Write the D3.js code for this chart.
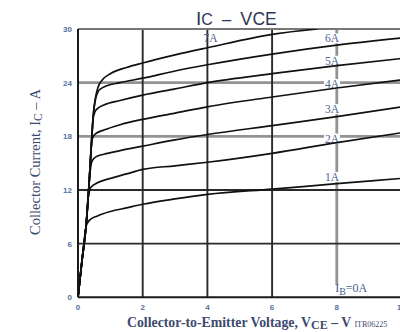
<!DOCTYPE html>
<html><head><meta charset="utf-8">
<script src="https://cdn.jsdelivr.net/npm/d3@7"></script>
<style>html,body{margin:0;padding:0;background:#fff;overflow:hidden}</style>
</head><body>
<svg id="c" width="400" height="332"></svg>
<script>
// ---- data ----
const xTicks = [0, 2, 4, 6, 8, 10];
const yTicks = [0, 6, 12, 18, 24, 30];
const baseCurrents = ["1A", "2A", "3A", "4A", "5A", "6A", "7A"];
const vce = {
  "1A": [0, 0.12, 0.25, 0.35, 0.6, 1, 1.5, 2, 3, 4, 6, 8, 10],
  "2A": [0, 0.12, 0.25, 0.32, 0.4, 0.6, 1, 1.5, 2, 3, 4, 6, 8, 10],
  "3A": [0, 0.12, 0.25, 0.33, 0.38, 0.43, 0.55, 0.8, 1.3, 2, 3, 4, 6, 8, 10],
  "4A": [0, 0.12, 0.25, 0.33, 0.38, 0.42, 0.46, 0.55, 0.8, 1.3, 2, 3, 4, 6, 8, 10],
  "5A": [0, 0.12, 0.25, 0.33, 0.38, 0.42, 0.47, 0.52, 0.6, 0.8, 1.3, 2, 3, 4, 6, 8, 10],
  "6A": [0, 0.12, 0.25, 0.33, 0.38, 0.42, 0.47, 0.55, 0.62, 0.7, 0.85, 1.3, 2, 3, 4, 6, 8, 10],
  "7A": [0, 0.12, 0.25, 0.33, 0.38, 0.42, 0.47, 0.55, 0.62, 0.75, 1, 1.5, 2, 3, 4, 6, 7.4]
};
const ic = {
  "1A": [0, 4, 7.9, 8.6, 9.1, 9.6, 10, 10.4, 11, 11.5, 12.1, 12.7, 13.3],
  "2A": [0, 4, 8, 11.3, 12.3, 12.8, 13.3, 13.8, 14.3, 14.7, 15.1, 16.1, 17.3, 18.4],
  "3A": [0, 4, 8, 12, 14.2, 15.2, 15.7, 16, 16.4, 16.9, 17.6, 18.2, 19.2, 20.2, 21.3],
  "4A": [0, 4, 8, 12, 15, 17.2, 17.9, 18.3, 18.7, 19.3, 19.9, 20.6, 21.3, 22.4, 23.4, 24.3],
  "5A": [0, 4, 8, 12, 15, 17.5, 20, 20.7, 21.1, 21.5, 22, 22.6, 23.3, 24, 25, 25.9, 26.7],
  "6A": [0, 4, 8, 12, 15, 17.5, 20.3, 22.3, 23, 23.3, 23.6, 24, 24.5, 25.3, 26, 27.2, 28.2, 29],
  "7A": [0, 4, 8, 12, 15, 17.5, 20.3, 22.5, 23.5, 24.3, 25, 25.7, 26.2, 27.1, 27.9, 29.4, 30]
};
const labelPos = { // label anchor in data units (V, A)
  "1A": [7.85, 13.0], "2A": [7.85, 17.3], "3A": [7.85, 20.6], "4A": [7.85, 23.4],
  "5A": [7.85, 26.0], "6A": [7.85, 28.5], "7A": [4.1, 28.5]
};
const titleText = ["I", "C", "  –  ", "V", "CE"];

// ---- drawing ----
const svg = d3.select("#c");
const x = d3.scaleLinear().domain([0, 10]).range([78, 401.5]);
const y = d3.scaleLinear().domain([0, 30]).range([297.3, 29]);

// grid
const darkX = [2, 4, 6], grayX = [8];
const darkY = [6, 12], grayY = [18, 24];
svg.append("g").selectAll("line").data(grayX).join("line")
  .attr("x1", d => x(d)).attr("x2", d => x(d)).attr("y1", y(0)).attr("y2", y(30))
  .attr("stroke", "#939393").attr("stroke-width", 2.8);
svg.append("g").selectAll("line").data(grayY).join("line")
  .attr("x1", x(0)).attr("x2", x(10)).attr("y1", d => y(d)).attr("y2", d => y(d))
  .attr("stroke", "#939393").attr("stroke-width", 2.8);
svg.append("g").selectAll("line").data(darkX).join("line")
  .attr("x1", d => x(d)).attr("x2", d => x(d)).attr("y1", y(0)).attr("y2", y(30))
  .attr("stroke", "#2a2a2a").attr("stroke-width", 1.9);
svg.append("g").selectAll("line").data(darkY).join("line")
  .attr("x1", x(0)).attr("x2", x(10)).attr("y1", d => y(d)).attr("y2", d => y(d))
  .attr("stroke", "#2a2a2a").attr("stroke-width", 1.9);
// frame
svg.append("line").attr("x1", x(0)).attr("x2", x(10)).attr("y1", y(30)).attr("y2", y(30))
  .attr("stroke", "#777").attr("stroke-width", 2.2);
svg.append("line").attr("x1", x(0)).attr("x2", x(0)).attr("y1", y(0)).attr("y2", y(30))
  .attr("stroke", "#1a1a1a").attr("stroke-width", 2);

// curve labels (white boxes behind, under the curves)
const lblColor = "#4b5f8f";
const lg = svg.append("g").attr("font-family", "'Liberation Serif', serif").attr("font-size", 11.5).attr("fill", lblColor);
baseCurrents.forEach(k => {
  const [vx, vy] = labelPos[k];
  const g = lg.append("g");
  if (k !== "7A") {
    g.append("rect").attr("x", x(vx) - 8).attr("y", y(vy) - 9).attr("width", 16).attr("height", 10).attr("fill", "#fff");
  }
  g.append("text").attr("x", x(vx)).attr("y", y(vy)).attr("text-anchor", "middle").text(k);
});

// curves
const line = d3.line().x(d => x(d[0])).y(d => y(d[1])).curve(d3.curveMonotoneX);
svg.append("defs").append("clipPath").attr("id", "pc").append("rect")
  .attr("x", x(0)).attr("y", y(30)).attr("width", x(10) - x(0)).attr("height", y(0) - y(30));
svg.append("g").attr("clip-path", "url(#pc)").selectAll("path").data(baseCurrents).join("path")
  .attr("d", k => line(vce[k].map((v, i) => [v, ic[k][i]])))
  .attr("fill", "none").attr("stroke", "#111").attr("stroke-width", 1.7);

// IB = 0A
const ib = svg.append("g");
ib.append("rect").attr("x", x(7.9)).attr("y", y(1.4)).attr("width", 44).attr("height", 13).attr("fill", "#fff");
const ibT = ib.append("text").attr("x", x(7.95)).attr("y", y(0.6))
  .attr("font-family", "'Liberation Serif', serif").attr("font-size", 12).attr("fill", lblColor);
ibT.append("tspan").text("I");
ibT.append("tspan").attr("dy", 3).attr("font-size", 10).text("B");
ibT.append("tspan").attr("dy", -3).text("=0A");
// bottom axis
svg.append("line").attr("x1", x(0)).attr("x2", x(10)).attr("y1", y(0)).attr("y2", y(0))
  .attr("stroke", "#1a1a1a").attr("stroke-width", 2);

// tick labels
const tickColor = "#5570a0";
svg.append("g").selectAll("text").data(yTicks).join("text")
  .attr("x", 72).attr("y", d => y(d) + 3).attr("text-anchor", "end")
  .attr("font-family", "Arial, 'Liberation Sans', sans-serif").attr("font-size", 8).attr("font-weight", "bold")
  .attr("fill", tickColor).text(d => d);
svg.append("g").selectAll("text").data(xTicks).join("text")
  .attr("x", d => x(d)).attr("y", 310).attr("text-anchor", "middle")
  .attr("font-family", "Arial, 'Liberation Sans', sans-serif").attr("font-size", 8).attr("font-weight", "bold")
  .attr("fill", tickColor).text(d => d);

// title
const tt = svg.append("text").attr("x", 196).attr("y", 25)
  .attr("font-family", "Arial, 'Liberation Sans', sans-serif").attr("fill", "#2a3654")
  .attr("xml:space", "preserve").style("white-space", "pre");
tt.append("tspan").attr("font-size", 19).text(titleText[0]);
tt.append("tspan").attr("font-size", 16).text(titleText[1]);
tt.append("tspan").attr("font-size", 16.5).text(titleText[2]);
tt.append("tspan").attr("font-size", 18).text(titleText[3]);
tt.append("tspan").attr("font-size", 17.5).text(titleText[4]);

// axis titles
const axColor = "#3d4a6e";
const yl = svg.append("text").attr("transform", "translate(40,162) rotate(-90)")
  .attr("text-anchor", "middle").attr("font-family", "'Liberation Serif', serif")
  .attr("font-size", 14.5).attr("fill", axColor);
yl.append("tspan").text("Collector Current, I");
yl.append("tspan").attr("dy", 2).attr("font-size", 11.5).text("C");
yl.append("tspan").attr("dy", -2).text(" – A");

const xl = svg.append("text").attr("x", 127).attr("y", 327)
  .attr("font-family", "'Liberation Serif', serif").attr("font-weight", "bold")
  .attr("font-size", 13.8).attr("fill", axColor);
xl.append("tspan").text("Collector-to-Emitter Voltage, V");
xl.append("tspan").attr("dy", 2).attr("font-size", 12).text("CE");
xl.append("tspan").attr("dy", -2).text(" – V ");
xl.append("tspan").attr("font-size", 8).attr("font-weight", "normal").text("ITR06225");
</script>
</body></html>
